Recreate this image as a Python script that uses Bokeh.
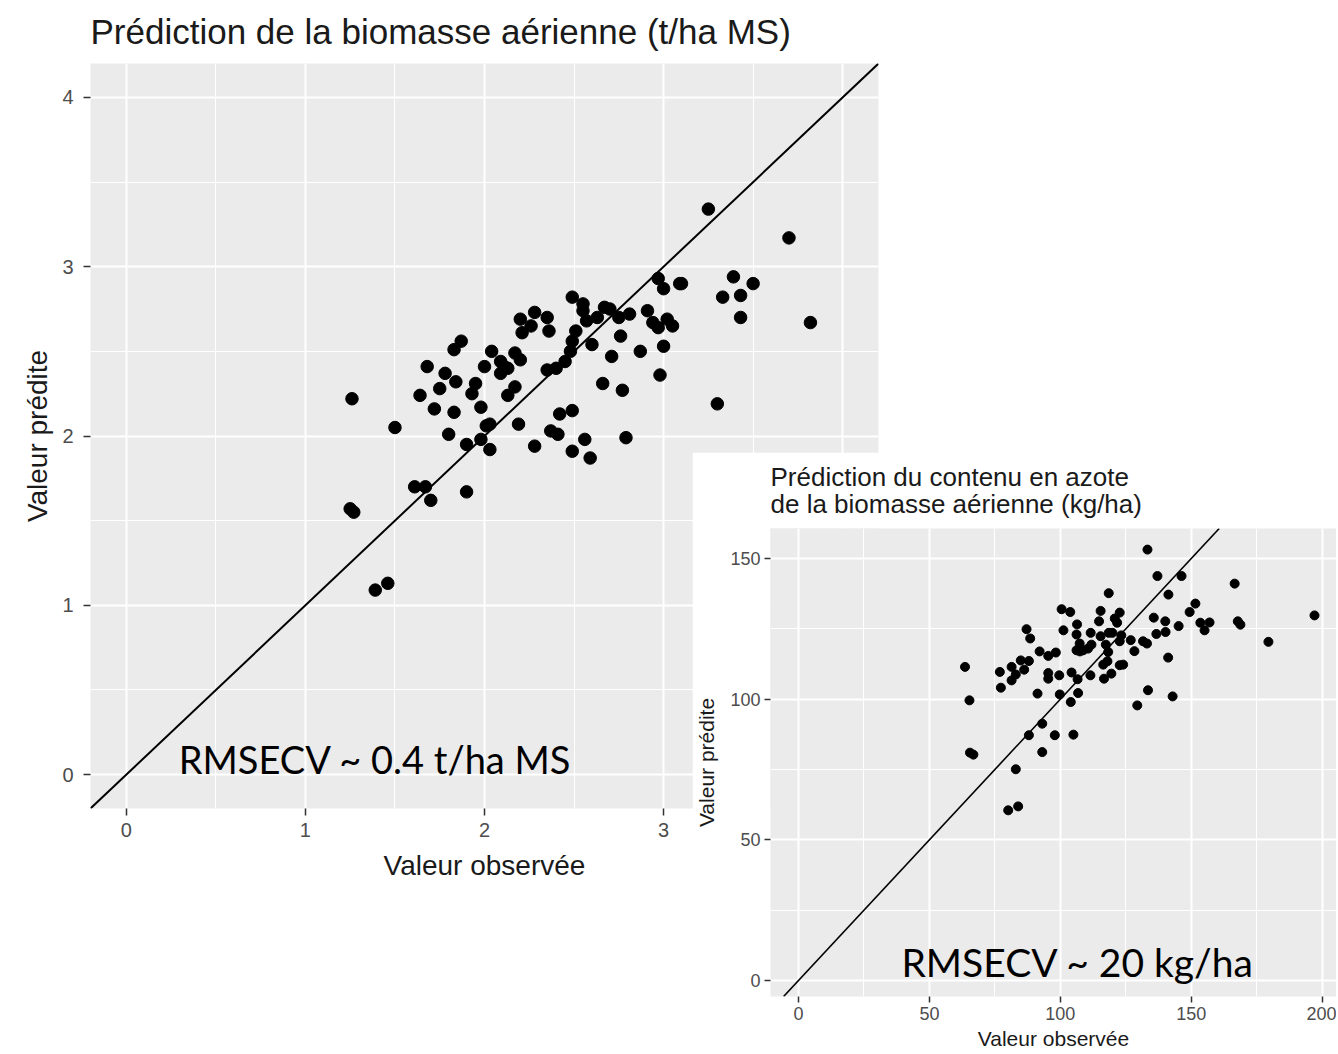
from bokeh.plotting import figure
from bokeh.models import (Range1d, SingleIntervalTicker, Slope, Label, Title,
                          GridBox, ColumnDataSource)
from bokeh.embed import file_html
from bokeh.resources import INLINE

# ---------------- data: aerial biomass (t/ha DM) ----------------
bio_obs = [1.26, 1.50, 1.25, 1.27, 1.61, 1.67, 1.70, 1.90, 1.68, 1.64, 1.75, 1.78, 1.72, 1.83,
           1.87, 1.84, 1.83, 1.80, 1.95, 1.93, 1.90, 1.98, 2.01, 2.03, 1.98, 2.03, 2.04, 2.00,
           2.09, 2.11, 2.09, 2.13, 2.17, 2.20, 2.17, 2.13, 2.19, 2.28, 2.20, 2.21, 2.26, 2.28,
           2.35, 2.36, 2.35, 2.40, 2.45, 2.48, 2.49, 2.51, 2.49, 2.55, 2.55, 2.57, 2.63, 2.60,
           2.42, 2.49, 2.37, 2.41, 2.56, 2.49, 2.59, 2.66,
           3.25, 3.70, 3.39, 3.50, 3.33, 3.43, 3.43, 3.82, 3.30, 2.97, 3.00, 3.09, 3.10, 2.91,
           2.94, 2.97, 3.02, 3.05, 3.00, 2.98, 2.87, 2.76, 2.71, 2.81, 2.75, 2.67, 2.70, 2.77,
           2.79, 1.39, 1.46]
bio_pred = [2.22, 2.05, 1.57, 1.55, 1.70, 1.70, 1.62, 1.67, 2.41, 2.24, 2.28, 2.37, 2.16, 2.51,
            2.56, 2.32, 2.14, 2.01, 2.31, 2.25, 1.95, 2.17, 2.06, 2.07, 1.98, 1.92, 2.50, 2.41,
            2.44, 2.41, 2.37, 2.40, 2.49, 2.45, 2.29, 2.24, 2.07, 1.94, 2.69, 2.61, 2.65, 2.73,
            2.70, 2.62, 2.39, 2.40, 2.44, 2.50, 2.56, 2.62, 2.82, 2.78, 2.74, 2.68, 2.70, 2.54,
            2.13, 2.15, 2.03, 2.01, 1.98, 1.91, 1.87, 2.31,
            3.34, 3.17, 2.94, 2.90, 2.82, 2.83, 2.70, 2.67, 2.19, 2.93, 2.87, 2.90, 2.90, 2.74,
            2.67, 2.64, 2.69, 2.65, 2.53, 2.36, 2.50, 2.59, 2.47, 2.72, 2.70, 2.76, 2.75, 2.27,
            1.99, 1.09, 1.13]

# ---------------- data: nitrogen content (kg/ha) ----------------
n_obs = [63.6, 76.9, 81.4, 83.0, 84.9, 88.0, 86.2, 87.1, 88.5, 92.1, 95.4, 98.3, 100.5, 103.8,
         101.2, 106.4, 106.2, 106.2, 107.5, 95.4, 99.6, 104.3,
         133.3, 137.1, 146.3, 141.3, 151.6, 149.4, 153.5, 155.1, 118.5, 115.4, 122.7, 120.8,
         121.7, 114.8, 111.6, 115.4, 118.5, 119.9, 123.3, 122.7, 126.9, 131.6, 133.1, 135.7,
         140.1, 140.2, 136.7, 145.2, 128.3, 141.2, 117.4, 118.3, 107.4, 108.7, 110.6, 111.9,
         116.4, 118.0, 122.7, 124.0, 119.5, 111.5,
         166.6, 157.0, 167.8, 168.8, 179.5, 197.1,
         65.3, 65.5, 66.8, 83.0, 80.1, 83.9, 93.1, 88.0, 93.1, 97.9, 105.0, 91.3, 99.8, 104.0,
         106.8, 77.3, 81.4, 95.4, 106.6, 116.7, 129.4, 133.5, 142.9]
n_pred = [111.5, 109.7, 111.5, 108.8, 113.8, 113.6, 110.5, 124.9, 121.6, 117.0, 115.4, 116.6,
          132.0, 131.0, 124.5, 126.6, 123.0, 117.4, 117.0, 109.3, 108.5, 109.5,
          153.2, 143.8, 143.8, 137.2, 134.0, 131.0, 127.2, 124.5, 137.7, 131.4, 130.8, 128.7,
          127.2, 127.7, 123.6, 122.4, 123.6, 123.6, 122.7, 120.6, 121.0, 120.6, 119.8, 129.0,
          127.7, 123.9, 123.2, 126.0, 117.1, 114.8, 119.4, 116.8, 119.8, 117.4, 118.0, 119.4,
          112.3, 113.5, 112.1, 112.3, 109.1, 108.5,
          141.1, 127.3, 127.7, 126.5, 120.4, 129.8,
          99.6, 81.0, 80.3, 75.1, 60.5, 61.9, 81.2, 87.2, 91.3, 87.2, 87.4, 102.0, 101.7, 99.0,
          102.2, 104.1, 106.7, 107.3, 107.1, 107.3, 97.8, 103.2, 101.0]

bio_title = "Prédiction de la biomasse aérienne (t/ha MS)"
n_title_1 = "Prédiction du contenu en azote"
n_title_2 = "de la biomasse aérienne (kg/ha)"
x_label = "Valeur observée"
y_label = "Valeur prédite"
bio_note = "RMSECV ~ 0.4 t/ha MS"
n_note = "RMSECV ~ 20 kg/ha"

FONT = "Liberation Sans"


def style(p, interval, tick_size, label_size, tick_out, x_std, y_std, x_als, y_als):
    p.background_fill_color = "#EBEBEB"
    p.border_fill_color = "white"
    p.outline_line_color = None
    for ax in (p.xaxis[0], p.yaxis[0]):
        ax.ticker = SingleIntervalTicker(interval=interval, num_minor_ticks=2)
        ax.axis_line_color = None
        ax.major_tick_line_color = "#333333"
        ax.major_tick_line_width = 1.5
        ax.major_tick_in = 0
        ax.major_tick_out = tick_out
        ax.minor_tick_line_color = None
        ax.major_label_text_color = "#4D4D4D"
        ax.major_label_text_font = FONT
        ax.major_label_text_font_size = tick_size
        ax.axis_label_text_font = FONT
        ax.axis_label_text_font_style = "normal"
        ax.axis_label_text_font_size = label_size
        ax.axis_label_text_color = "#1A1A1A"
    p.xaxis[0].major_label_standoff = x_std
    p.yaxis[0].major_label_standoff = y_std
    p.xaxis[0].axis_label_standoff = x_als
    p.yaxis[0].axis_label_standoff = y_als
    for g in (p.xgrid[0], p.ygrid[0]):
        g.grid_line_color = "white"
        g.grid_line_width = 2
        g.minor_grid_line_color = "white"
        g.minor_grid_line_width = 1


# ---------------- big chart ----------------
p1 = figure(width=900, height=890, output_backend="svg", toolbar_location=None,
            x_range=Range1d(-0.2, 4.2), y_range=Range1d(-0.2, 4.2),
            min_border_left=90, min_border_right=22, min_border_top=63, min_border_bottom=82,
            x_axis_label=x_label, y_axis_label=y_label)
p1.title.text = bio_title
p1.title.text_font = FONT
p1.title.text_font_size = "35px"
p1.title.text_font_style = "normal"
p1.title.text_color = "#1A1A1A"
p1.title.vertical_align = "top"
p1.title.standoff = 22
style(p1, 1, "20px", "28px", 7, 7, 10, 10, 6)
p1.add_layout(Slope(gradient=1, y_intercept=0, line_color="black", line_width=2))
src1 = ColumnDataSource(dict(x=bio_obs, y=bio_pred))
p1.scatter("x", "y", source=src1, size=12.5, color="black")
p1.add_layout(Label(x=1.39, y=0.09, text=bio_note, text_align="center",
                    text_baseline="middle", text_font="Lato",
                    text_font_size="38px", text_color="black"))

# ---------------- small chart ----------------
p2 = figure(width=644, height=600, output_backend="svg", toolbar_location=None,
            x_range=Range1d(-10.7, 205.5), y_range=Range1d(-5.7, 160.7),
            min_border_left=77, min_border_right=0, min_border_top=76, min_border_bottom=52,
            x_axis_label=x_label, y_axis_label=y_label, title=None)
t2 = Title(text=n_title_1 + "\n" + n_title_2, text_font=FONT, text_font_size="26px",
           text_font_style="normal", text_color="#1A1A1A", text_line_height=0.9,
           vertical_align="top", standoff=15)
p2.add_layout(t2, "above")
style(p2, 50, "18px", "21px", 6, 4, 4, 4, 9)
p2.add_layout(Slope(gradient=1, y_intercept=0, line_color="black", line_width=1.6))
src2 = ColumnDataSource(dict(x=n_obs, y=n_pred))
p2.scatter("x", "y", source=src2, size=9, color="black")
p2.add_layout(Label(x=106.7, y=6.4, text=n_note, text_align="center",
                    text_baseline="middle", text_font="Lato",
                    text_font_size="39px", text_color="black"))

layout = GridBox(children=[(p1, 0, 0, 2, 2), (p2, 1, 1, 2, 2)],
                 rows=["452px", "438px", "164px"], cols=["692px", "208px", "438px"])

open("out.html", "w").write(file_html(layout, INLINE))
